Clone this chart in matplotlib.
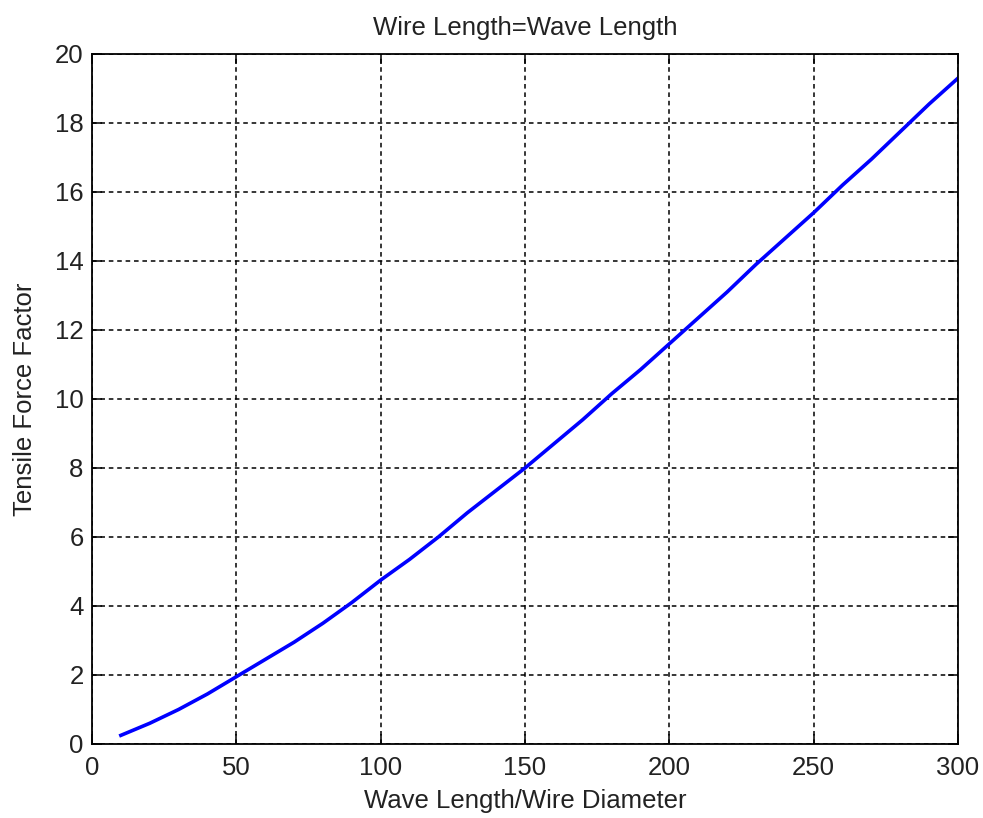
import matplotlib
matplotlib.use("Agg")
import matplotlib.pyplot as plt

ratio = [10, 20, 30, 40, 50, 60, 70, 80, 90, 100, 110, 120, 130, 140, 150,
         160, 170, 180, 190, 200, 210, 220, 230, 240, 250, 260, 270, 280, 290, 300]
force = [0.25, 0.6, 1.0, 1.45, 1.95, 2.45, 2.95, 3.5, 4.1, 4.75, 5.35, 6.0, 6.7, 7.35, 8.0,
         8.7, 9.4, 10.15, 10.85, 11.6, 12.35, 13.1, 13.9, 14.65, 15.4, 16.2, 16.95, 17.75, 18.55, 19.3]
xticks = [0, 50, 100, 150, 200, 250, 300]
yticks = [0, 2, 4, 6, 8, 10, 12, 14, 16, 18, 20]

plt.rcParams['font.family'] = ['Liberation Sans', 'DejaVu Sans']

fig = plt.figure(figsize=(9.83, 8.18), dpi=100)
ax = fig.add_axes([0.0936, 0.0905, 0.8810, 0.8435])
ax.plot(ratio, force, color=(0, 0, 1), lw=2.6)
ax.set_xlim(0, 300)
ax.set_ylim(0, 20)
ax.set_xticks(xticks)
ax.set_yticks(yticks)
ax.grid(True, color='black', linestyle=(0, (3, 2.5)), linewidth=1.1)
ax.tick_params(direction='in', length=7, width=1.1, top=True, right=True,
               labelsize=18.5, color='black', labelcolor='#222222')
ax.tick_params(axis='x', pad=9)
ax.tick_params(axis='y', pad=6)
for s in ax.spines.values():
    s.set_linewidth(1.3)
ax.set_title('Wire Length=Wave Length', fontsize=18.5, pad=14, color='#222222')
ax.set_xlabel('Wave Length/Wire Diameter', fontsize=18.5, labelpad=6, color='#222222')
ax.set_ylabel('Tensile Force Factor', fontsize=18.5, labelpad=13, color='#222222')
fig.savefig('out.png', dpi=100)
